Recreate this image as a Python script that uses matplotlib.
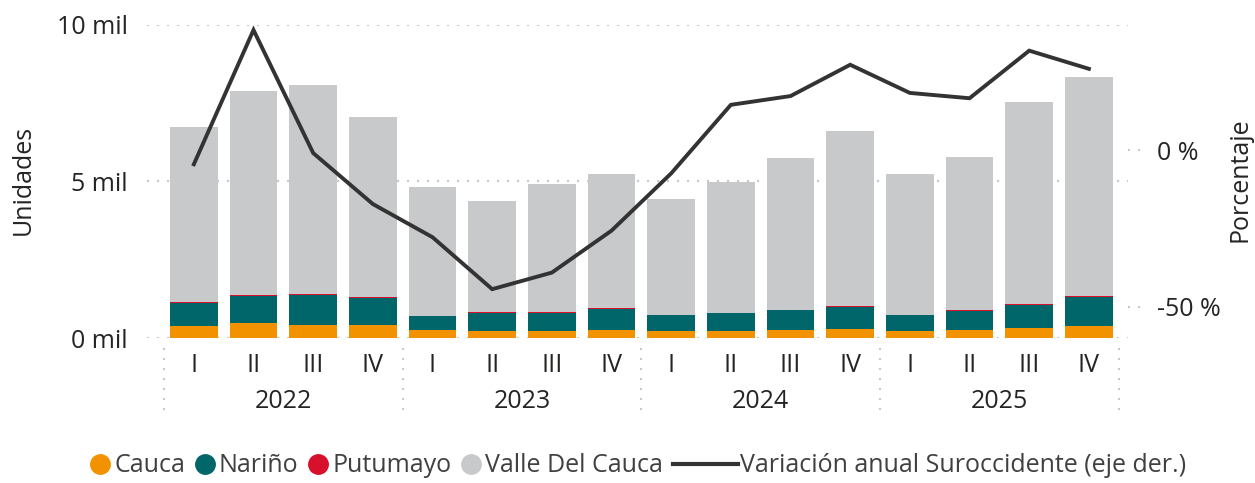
import matplotlib
matplotlib.use("Agg")
import matplotlib.pyplot as plt
import matplotlib.transforms as mtransforms
from matplotlib.lines import Line2D
import numpy as np

plt.rcParams['font.family'] = ['Open Sans', 'DejaVu Sans']

quarters = ["I", "II", "III", "IV"] * 4
years = ["2022", "2023", "2024", "2025"]

cauca = [0.38, 0.48, 0.42, 0.42, 0.26, 0.22, 0.22, 0.26, 0.22, 0.22, 0.26, 0.29, 0.22, 0.26, 0.32, 0.38]
narino = [0.74, 0.86, 0.95, 0.87, 0.44, 0.58, 0.58, 0.66, 0.51, 0.58, 0.63, 0.70, 0.51, 0.60, 0.73, 0.93]
putumayo = [0.03, 0.02, 0.02, 0.03, 0.01, 0.03, 0.03, 0.04, 0.01, 0.01, 0.01, 0.02, 0.01, 0.03, 0.04, 0.03]
valle = [5.59, 6.53, 6.69, 5.74, 4.11, 3.55, 4.09, 4.28, 3.70, 4.17, 4.85, 5.60, 4.50, 4.89, 6.45, 7.00]
variacion = [-4.5, 38.4, -0.9, -17.2, -27.8, -44.4, -39.1, -25.7, -7.4, 14.5, 17.3, 27.3, 18.3, 16.6, 31.8, 26.0]

c_cauca = "#F39200"
c_narino = "#00666A"
c_put = "#D7102C"
c_valle = "#C8C9CB"
c_line = "#333333"
c_text = "#252423"
c_grid = "#C8C8C8"

W, H = 1255, 483
fig = plt.figure(figsize=(W / 100, H / 100), dpi=100)
left, right, top, bottom = 147, 1128, 25, 338
ax = fig.add_axes([left / W, (H - bottom) / H, (right - left) / W, (bottom - top) / H])

slot = 59.67
x0 = -0.5 - 17 / slot
x1 = x0 + (right - left) / slot
x = np.arange(len(quarters))
bw = 0.8

b0 = np.zeros(len(x))
for vals, col in [(cauca, c_cauca), (narino, c_narino), (putumayo, c_put), (valle, c_valle)]:
    ax.bar(x, vals, bw, bottom=b0, color=col, zorder=2)
    b0 = b0 + np.array(vals)

ax.set_xlim(x0, x1)
ax.set_ylim(0, 10)
ax.set_yticks([0, 5, 10])
ax.set_yticklabels(["0 mil", "5 mil", "10 mil"])
ax.yaxis.grid(True, color=c_grid, linewidth=1.5, dashes=(1, 3.8), zorder=0)
ax.set_axisbelow(True)
for s in ax.spines.values():
    s.set_visible(False)
ax.tick_params(axis='y', length=0, pad=14, labelsize=18, labelcolor=c_text)
ax.set_xticks(x)
ax.set_xticklabels(quarters)
ax.tick_params(axis='x', length=0, pad=11, labelsize=18, labelcolor=c_text)

# year labels and separators
trans = mtransforms.blended_transform_factory(ax.transData, ax.transAxes)
for i, yr in enumerate(years):
    ax.text(i * 4 + 1.5, -64 / (bottom - top), yr, transform=trans, ha='center', va='center',
            fontsize=18, color=c_text)
for xs in [-0.5, 3.5, 7.5, 11.5, 15.5]:
    ax.plot([xs, xs], [-10 / (bottom - top), -80 / (bottom - top)], transform=trans,
            color=c_grid, linewidth=1.5, dashes=(1, 3.8), clip_on=False)

ax2 = ax.twinx()
ax2.plot(x, variacion, color=c_line, linewidth=2.8, zorder=5, solid_joinstyle='miter')
ax2.set_ylim(-60, 40)
ax2.set_yticks([-50, 0])
ax2.set_yticklabels(["-50 %", "0 %"])
ax2.tick_params(axis='y', length=0, pad=21, labelsize=18, labelcolor=c_text)
for lbl in ax2.get_yticklabels():
    lbl.set_horizontalalignment('left')
for s in ax2.spines.values():
    s.set_visible(False)
trans2 = mtransforms.blended_transform_factory(ax2.transAxes, ax2.transData)
for yv in [-50, 0]:
    ax2.plot([1.0, 1.013], [yv, yv], transform=trans2, color=c_grid, linewidth=1.5,
             dashes=(1, 3.8), clip_on=False)

fig.text(23 / W, 1 - 180 / H, "Unidades", rotation=90, ha='center', va='center',
         fontsize=18, color=c_text)
fig.text(1240 / W, 1 - 180 / H, "Porcentaje", rotation=90, ha='center', va='center',
         fontsize=18, color=c_text)

# legends
circ = [Line2D([], [], linestyle='none', marker='o', markersize=14, color=c)
        for c in [c_cauca, c_narino, c_put, c_valle]]
names = ["Cauca", "Nariño", "Putumayo", "Valle Del Cauca"]
leg1 = fig.legend(circ, names, loc='center right', bbox_to_anchor=(663 / W, 1 - 466 / H),
                  ncol=4, frameon=False, fontsize=18, handlelength=0.85, handletextpad=0.15,
                  columnspacing=0.35, borderpad=0, borderaxespad=0, labelcolor='#404040')
lh = [Line2D([], [], color=c_line, linewidth=3)]
leg2 = fig.legend(lh, ["Variación anual Suroccidente (eje der.)"], loc='center left',
                  bbox_to_anchor=(673 / W, 1 - 466 / H), frameon=False, fontsize=18,
                  handlelength=2.6, handletextpad=0.1, borderpad=0, borderaxespad=0,
                  labelcolor='#404040')

fig.savefig("out.png", dpi=100)
